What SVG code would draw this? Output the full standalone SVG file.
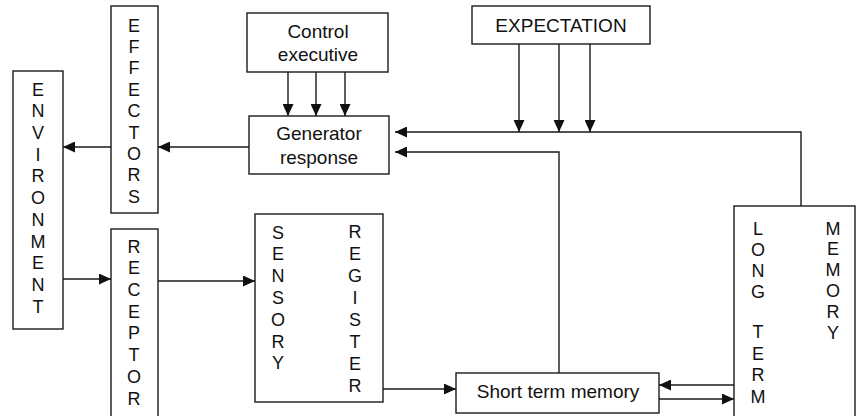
<svg xmlns="http://www.w3.org/2000/svg" width="857" height="416" viewBox="0 0 857 416">
  <style>
    .box { fill: #ffffff; stroke: #1a1a1a; stroke-width: 1.4; }
    .lbl { font-family: "Liberation Sans", Arial, sans-serif; font-size: 19px; fill: #111111; text-anchor: middle; }
    .vl  { font-family: "Liberation Sans", Arial, sans-serif; font-size: 18px; fill: #111111; text-anchor: middle; }
    .wire { fill: none; stroke: #1a1a1a; stroke-width: 1.4; }
    .arr { marker-end: url(#head); }
  </style>
  <defs>
    <marker id="head" markerUnits="userSpaceOnUse" markerWidth="12" markerHeight="11" refX="12" refY="5.5" orient="auto">
      <path d="M0,0 L12,5.5 L0,11 z" fill="#111111"/>
    </marker>
  </defs>
  <rect width="857" height="416" fill="#ffffff"/>

  <!-- connectors -->
  <g id="connectors">
    <!-- control executive feeds the generator -->
    <line class="wire arr" x1="288" y1="72" x2="288" y2="116"/>
    <line class="wire arr" x1="316" y1="72" x2="316" y2="116"/>
    <line class="wire arr" x1="345" y1="72" x2="345" y2="116"/>
    <!-- expectation drops onto the feedback bus -->
    <line class="wire arr" x1="519" y1="44" x2="519" y2="132"/>
    <line class="wire arr" x1="559" y1="44" x2="559" y2="132"/>
    <line class="wire arr" x1="590" y1="44" x2="590" y2="132"/>
    <!-- long term memory back to the generator -->
    <polyline class="wire arr" points="801,206 801,132 395,132"/>
    <!-- short term memory back to the generator -->
    <polyline class="wire arr" points="559,373 559,152 395,152"/>
    <!-- generator to effectors to environment -->
    <line class="wire arr" x1="249" y1="147" x2="158" y2="147"/>
    <line class="wire arr" x1="111" y1="147" x2="63" y2="147"/>
    <!-- environment to receptor to sensory register -->
    <line class="wire arr" x1="63" y1="279" x2="111" y2="279"/>
    <line class="wire arr" x1="158" y1="281" x2="255" y2="281"/>
    <!-- sensory register to short term memory -->
    <line class="wire arr" x1="383" y1="389" x2="456" y2="389"/>
    <!-- short term / long term exchange -->
    <line class="wire arr" x1="734" y1="385" x2="659" y2="385"/>
    <line class="wire arr" x1="659" y1="399" x2="734" y2="399"/>
  </g>

  <g id="control-executive">
    <rect class="box" x="247" y="13" width="141" height="59"/>
    <text class="lbl" x="318" y="38">Control</text>
    <text class="lbl" x="318" y="61">executive</text>
  </g>

  <g id="expectation">
    <rect class="box" x="472" y="6" width="178" height="38"/>
    <text class="lbl" x="561" y="32">EXPECTATION</text>
  </g>

  <g id="generator-response">
    <rect class="box" x="249" y="116" width="140" height="58"/>
    <text class="lbl" x="319" y="140">Generator</text>
    <text class="lbl" x="319" y="164">response</text>
  </g>

  <g id="effectors">
    <rect class="box" x="111" y="6" width="47" height="207"/>
    <text class="vl">
      <tspan x="134" y="31.6">E</tspan><tspan x="134" y="53">F</tspan><tspan x="134" y="74.4">F</tspan><tspan x="134" y="95.8">E</tspan><tspan x="134" y="117.2">C</tspan><tspan x="134" y="138.6">T</tspan><tspan x="134" y="160">O</tspan><tspan x="134" y="181.4">R</tspan><tspan x="134" y="202.8">S</tspan>
    </text>
  </g>

  <g id="environment">
    <rect class="box" x="13" y="71" width="50" height="258"/>
    <text class="vl">
      <tspan x="38" y="95.6">E</tspan><tspan x="38" y="117.3">N</tspan><tspan x="38" y="139">V</tspan><tspan x="38" y="160.7">I</tspan><tspan x="38" y="182.4">R</tspan><tspan x="38" y="204.1">O</tspan><tspan x="38" y="225.8">N</tspan><tspan x="38" y="247.5">M</tspan><tspan x="38" y="269.2">E</tspan><tspan x="38" y="290.9">N</tspan><tspan x="38" y="312.6">T</tspan>
    </text>
  </g>

  <g id="receptor">
    <rect class="box" x="111" y="229" width="47" height="200"/>
    <text class="vl">
      <tspan x="134" y="252.6">R</tspan><tspan x="134" y="274.3">E</tspan><tspan x="134" y="296">C</tspan><tspan x="134" y="317.7">E</tspan><tspan x="134" y="339.4">P</tspan><tspan x="134" y="361.1">T</tspan><tspan x="134" y="382.8">O</tspan><tspan x="134" y="404.5">R</tspan>
    </text>
  </g>

  <g id="sensory-register">
    <rect class="box" x="255" y="214" width="128" height="188"/>
    <text class="vl">
      <tspan x="278" y="238.6">S</tspan><tspan x="278" y="260.4">E</tspan><tspan x="278" y="282.2">N</tspan><tspan x="278" y="304">S</tspan><tspan x="278" y="325.8">O</tspan><tspan x="278" y="347.6">R</tspan><tspan x="278" y="369.4">Y</tspan>
    </text>
    <text class="vl">
      <tspan x="355" y="237.6">R</tspan><tspan x="355" y="259.7">E</tspan><tspan x="355" y="281.8">G</tspan><tspan x="355" y="303.9">I</tspan><tspan x="355" y="326">S</tspan><tspan x="355" y="348.1">T</tspan><tspan x="355" y="370.2">E</tspan><tspan x="355" y="392.3">R</tspan>
    </text>
  </g>

  <g id="short-term-memory">
    <rect class="box" x="456" y="373" width="203" height="40"/>
    <text class="lbl" x="558" y="398">Short term memory</text>
  </g>

  <g id="long-term-memory">
    <rect class="box" x="734" y="206" width="121" height="220"/>
    <text class="vl">
      <tspan x="758" y="234.6">L</tspan><tspan x="758" y="255.6">O</tspan><tspan x="758" y="276.6">N</tspan><tspan x="758" y="297.6">G</tspan><tspan x="758" y="337.6">T</tspan><tspan x="758" y="359.6">E</tspan><tspan x="758" y="381">R</tspan><tspan x="758" y="402.6">M</tspan>
    </text>
    <text class="vl">
      <tspan x="833" y="234.6">M</tspan><tspan x="833" y="254.6">E</tspan><tspan x="833" y="275.6">M</tspan><tspan x="833" y="296.6">O</tspan><tspan x="833" y="317.6">R</tspan><tspan x="833" y="338.6">Y</tspan>
    </text>
  </g>
</svg>
